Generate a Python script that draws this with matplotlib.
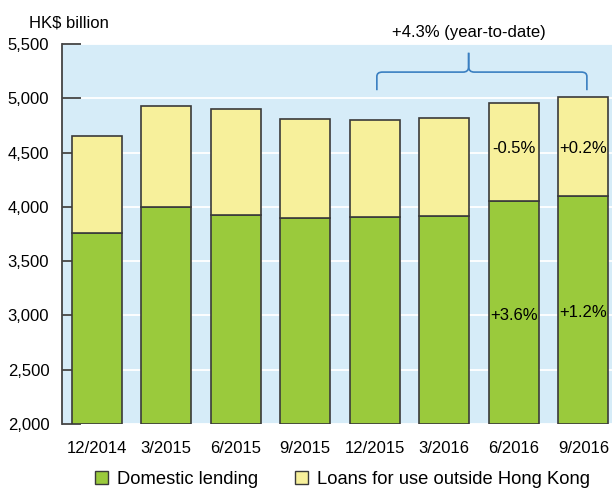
import numpy as np
import matplotlib.pyplot as plt
from matplotlib.path import Path
from matplotlib.patches import PathPatch, Patch

plt.rcParams['font.family'] = ['Liberation Sans', 'DejaVu Sans']

periods = ['12/2014', '3/2015', '6/2015', '9/2015', '12/2015', '3/2016', '6/2016', '9/2016']
domestic = [3760, 3995, 3925, 3898, 3905, 3915, 4055, 4102]
total = [4653, 4929, 4905, 4810, 4802, 4820, 4957, 5012]
outside = [t - d for t, d in zip(total, domestic)]

dom_labels = {6: '+3.6%', 7: '+1.2%'}
out_labels = {6: '-0.5%', 7: '+0.2%'}
ytd_label = '+4.3% (year-to-date)'

green = '#9aca3c'
yellow = '#f7f09b'
edge = '#3a3a3a'
fs = 12

fig = plt.figure(figsize=(6.12, 4.9), dpi=100)
ax = fig.add_axes([0.101, 0.135, 0.9, 0.775])
ax.set_facecolor('#d6ecf8')

x = np.arange(len(periods))
ax.bar(x, np.array(domestic) - 2000, bottom=2000, width=0.72, color=green,
       edgecolor=edge, linewidth=1.2, zorder=3)
ax.bar(x, outside, bottom=domestic, width=0.72, color=yellow,
       edgecolor=edge, linewidth=1.2, zorder=3)

ax.set_ylim(2000, 5500)
ax.set_xlim(-0.5, 7.42)
ax.set_yticks(np.arange(2000, 5501, 500))
ax.set_yticklabels([f'{v:,}' for v in range(2000, 5501, 500)], fontsize=fs)
ax.yaxis.grid(True, color='white', linewidth=1.3, zorder=1)
ax.tick_params(axis='y', direction='in', length=14, width=1.3, color='#444444', pad=9)
ax.set_xticks(x)
ax.set_xticklabels(periods, fontsize=fs)
ax.tick_params(axis='x', length=0, pad=12)
for s in ['top', 'right', 'bottom']:
    ax.spines[s].set_visible(False)
ax.spines['left'].set_color('#444444')
ax.spines['left'].set_linewidth(1.3)

dom_y = {6: 2995, 7: 3025}
for i, s in dom_labels.items():
    ax.text(x[i], dom_y[i], s, ha='center', va='center', fontsize=fs, zorder=4)
for i, s in out_labels.items():
    ax.text(x[i], 4535, s, ha='center', va='center', fontsize=fs, zorder=4)

# brace over 12/2015 .. 9/2016
x0, x1, xm = 4.03, 7.05, 5.35
yb, yh, yt = 5075, 5242, 5420
r = 0.08
left = [(x0, yb), (x0, yh - 40), (x0, yh), (x0 + r, yh), (xm - r, yh), (xm, yh), (xm, yh + 50), (xm, yt)]
right = [(x1, yb), (x1, yh - 40), (x1, yh), (x1 - r, yh), (xm + r, yh), (xm, yh), (xm, yh + 50), (xm, yt)]
codes = [Path.MOVETO, Path.LINETO, Path.CURVE3, Path.CURVE3, Path.LINETO, Path.CURVE3, Path.CURVE3, Path.LINETO]
for pts in (left, right):
    ax.add_patch(PathPatch(Path(pts, codes), facecolor='none', edgecolor='#3a7fc1',
                           linewidth=1.2, zorder=4, clip_on=False))
ax.text(xm, 5605, ytd_label, ha='center', va='center', fontsize=fs, clip_on=False)

ax.text(-0.06, 1.035, 'HK$ billion', transform=ax.transAxes, ha='left', va='bottom', fontsize=fs)

handles = [Patch(facecolor=green, edgecolor=edge, label='Domestic lending'),
           Patch(facecolor=yellow, edgecolor=edge, label='Loans for use outside Hong Kong')]
fig.legend(handles=handles, loc='lower center', bbox_to_anchor=(0.56, -0.03), ncol=2, frameon=False,
           fontsize=13.2, handlelength=0.7, handleheight=0.7, columnspacing=2.0, handletextpad=0.5)

fig.savefig('out.png', dpi=100)
